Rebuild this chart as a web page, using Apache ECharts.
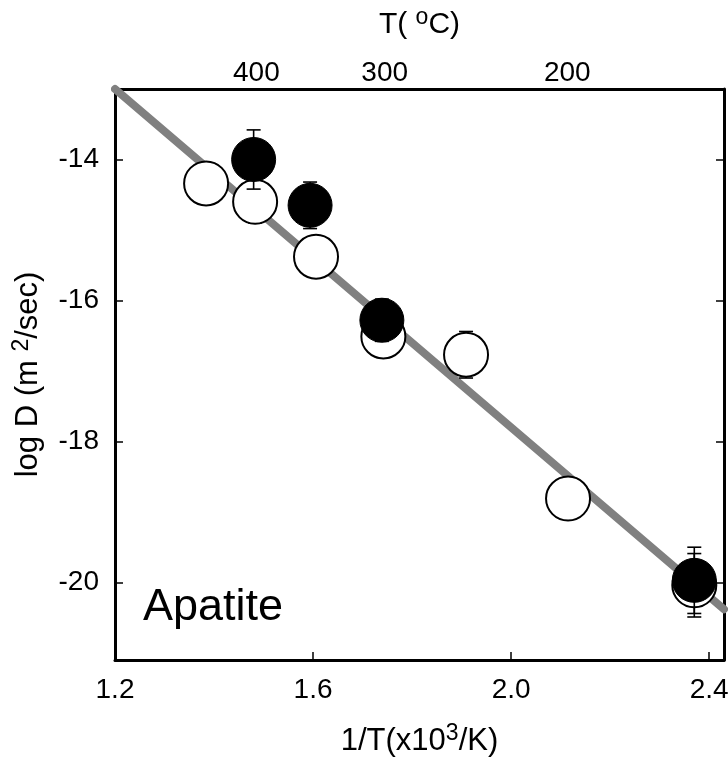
<!DOCTYPE html>
<html>
<head>
<meta charset="utf-8">
<script src="https://cdn.jsdelivr.net/npm/echarts@6/dist/echarts.min.js"></script>
<style>
html,body{margin:0;padding:0;background:#fff;}
#c{width:728px;height:757px;}
</style>
</head>
<body>
<div id="c"></div>
<script>
// ---- data ----
const xTicks = [1.2, 1.6, 2.0, 2.4];
const yTicks = [-14, -16, -18, -20];
const tempTicksC = [400, 300, 200];

const openX = [1.384, 1.483, 1.606, 1.742, 1.909, 2.115, 2.370];
const openY = [-14.34, -14.60, -15.38, -16.51, -16.77, -18.81, -20.04];
const openErr = [0, 0.30, 0, 0.30, 0.33, 0, 0.45];

const filledX = [1.480, 1.594, 1.739, 2.370];
const filledY = [-14.00, -14.65, -16.28, -19.97];
const filledErr = [0.42, 0.33, 0.30, 0.47];

const fitX = [1.2, 2.43];
const fitY = [-13.0, -20.38];

const xMin = 1.2, xMax = 2.43, yMin = -21.1, yMax = -13.0;

// ---- build ----
const FONT = 'Liberation Sans';
const zip = (a, b, c) => a.map((v, i) => c ? [v, b[i], c[i]] : [v, b[i]]);
const tempPos = tempTicksC.map(t => 1000 / (t + 273.15));

function errRender(params, api) {
  const x = api.value(0), y = api.value(1), e = api.value(2);
  if (!e) return null;
  const p1 = api.coord([x, y + e]);
  const p2 = api.coord([x, y - e]);
  const hw = 7;
  const st = { stroke: '#000', lineWidth: 1.6 };
  return {
    type: 'group',
    children: [
      { type: 'line', shape: { x1: p1[0], y1: p1[1], x2: p2[0], y2: p2[1] }, style: st },
      { type: 'line', shape: { x1: p1[0] - hw, y1: p1[1], x2: p1[0] + hw, y2: p1[1] }, style: st },
      { type: 'line', shape: { x1: p2[0] - hw, y1: p2[1], x2: p2[0] + hw, y2: p2[1] }, style: st }
    ]
  };
}

const axisLineStyle = { color: '#000', width: 3 };
const labelStyle = { color: '#000', fontFamily: FONT, fontSize: 28 };
const sup = (fs, pb) => ({ sup: { fontSize: fs, verticalAlign: 'top', padding: [0, 0, pb, 0], fontFamily: FONT, color: '#000' } });

const chart = echarts.init(document.getElementById('c'), null, { renderer: 'canvas' });
chart.setOption({
  animation: false,
  backgroundColor: '#fff',
  grid: { left: 115, right: 4, top: 89, bottom: 97, containLabel: false, outerBoundsMode: 'none' },
  xAxis: [
    {
      type: 'value', position: 'bottom', min: xMin, max: xMax,
      splitLine: { show: false },
      axisLine: { lineStyle: axisLineStyle },
      axisTick: { inside: true, length: 8, lineStyle: { color: '#000', width: 1.5 }, customValues: xTicks },
      axisLabel: Object.assign({ margin: 16, customValues: xTicks, formatter: v => v.toFixed(1) }, labelStyle),
      name: '1/T(x10{sup|3}/K)',
      nameLocation: 'middle', nameGap: 62,
      nameTextStyle: { color: '#000', fontFamily: FONT, fontSize: 31, rich: sup(23, 16) }
    },
    {
      type: 'value', position: 'top', min: xMin, max: xMax,
      splitLine: { show: false },
      axisLine: { lineStyle: axisLineStyle },
      axisTick: { show: false },
      axisLabel: Object.assign({ margin: 2, customValues: tempPos, formatter: v => String(Math.round(1000 / v - 273.15)) }, labelStyle),
      name: 'T( {sup|o}C)',
      nameLocation: 'middle', nameGap: 46,
      nameTextStyle: { color: '#000', fontFamily: FONT, fontSize: 30, rich: sup(23, 14) }
    }
  ],
  yAxis: [
    {
      type: 'value', position: 'left', min: yMin, max: yMax,
      splitLine: { show: false },
      axisLine: { lineStyle: axisLineStyle },
      axisTick: { inside: true, length: 8, lineStyle: { color: '#000', width: 1.5 }, customValues: yTicks },
      axisLabel: Object.assign({ margin: 16, customValues: yTicks, formatter: v => String(v) }, labelStyle),
      name: 'log D (m {sup|2}/sec)',
      nameLocation: 'middle', nameGap: 68,
      nameTextStyle: { color: '#000', fontFamily: FONT, fontSize: 31, rich: sup(23, 14) }
    },
    {
      type: 'value', position: 'right', min: yMin, max: yMax,
      splitLine: { show: false },
      axisLine: { lineStyle: axisLineStyle },
      axisTick: { inside: true, length: 8, lineStyle: { color: '#000', width: 1.5 }, customValues: yTicks },
      axisLabel: { show: false }
    }
  ],
  graphic: [
    { type: 'text', left: 143, top: 585, style: { text: 'Apatite', fontFamily: FONT, fontSize: 45, fill: '#000' }, z: 100 }
  ],
  series: [
    {
      type: 'line', data: zip(fitX, fitY), xAxisIndex: 0, yAxisIndex: 0,
      symbol: 'none', clip: false, z: 1,
      lineStyle: { color: '#808080', width: 8, cap: 'round' }
    },
    {
      type: 'custom', data: zip(openX, openY, openErr), renderItem: errRender, z: 2, clip: false
    },
    {
      type: 'scatter', data: zip(openX, openY), symbol: 'circle', symbolSize: 44, z: 3,
      itemStyle: { color: '#fff', borderColor: '#000', borderWidth: 2, opacity: 1 }
    },
    {
      type: 'custom', data: zip(filledX, filledY, filledErr), renderItem: errRender, z: 4, clip: false
    },
    {
      type: 'scatter', data: zip(filledX, filledY), symbol: 'circle', symbolSize: 44, z: 5,
      itemStyle: { color: '#000', borderColor: '#000', borderWidth: 1, opacity: 1 }
    }
  ]
});
</script>
</body>
</html>
